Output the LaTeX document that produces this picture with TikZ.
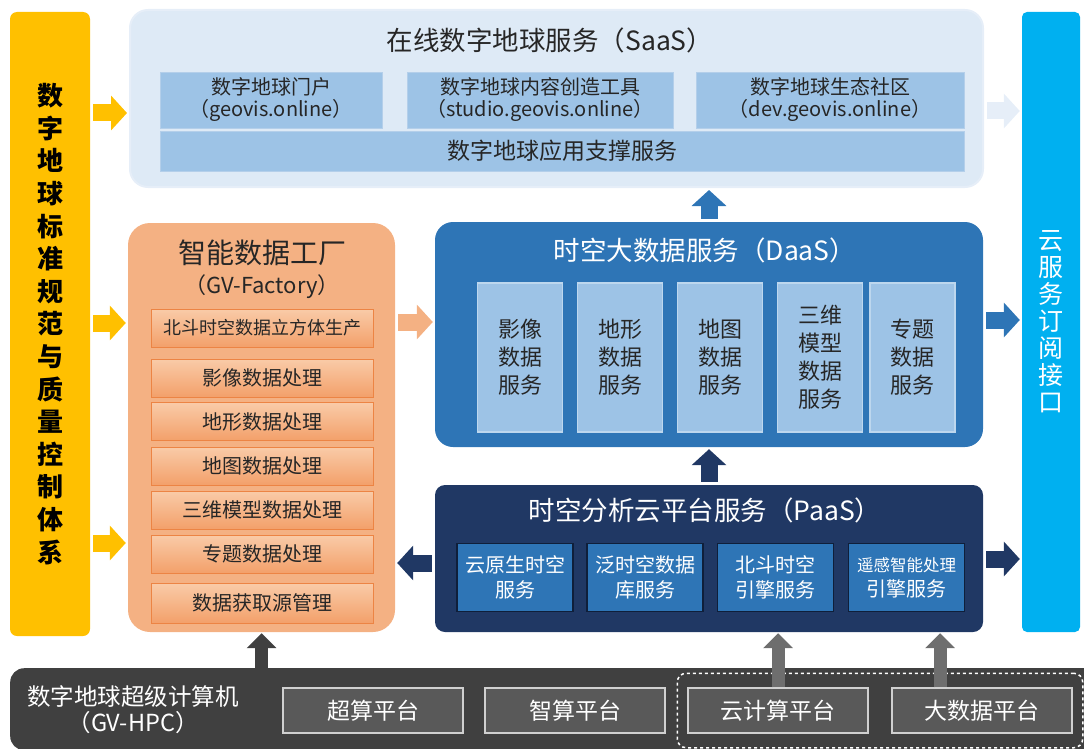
\documentclass[tikz,border=0pt]{standalone}
\usepackage{fontspec}
\setmainfont{Noto Sans CJK SC}
\usetikzlibrary{positioning,fit,arrows.meta}

\definecolor{stdyellow}{HTML}{FFC000}
\definecolor{cloudblue}{HTML}{00B0F0}
\definecolor{saasbg}{HTML}{DEEAF6}
\definecolor{saasedge}{HTML}{E6EEF8}
\definecolor{lightblue}{HTML}{9DC3E6}
\definecolor{saasline}{HTML}{B4CFEA}
\definecolor{factorybg}{HTML}{F4B183}
\definecolor{cubetop}{HTML}{F9CBA8}
\definecolor{cubebot}{HTML}{F3A06A}
\definecolor{cubeedge}{HTML}{EC8444}
\definecolor{daasblue}{HTML}{2E75B6}
\definecolor{daasline}{HTML}{BDD7EE}
\definecolor{paasnavy}{HTML}{203864}
\definecolor{paasline}{HTML}{0F1F3A}
\definecolor{hpcdark}{HTML}{404040}
\definecolor{hpcbox}{HTML}{595959}
\definecolor{hpcline}{HTML}{D0D0D0}
\definecolor{hpcarrow}{HTML}{6E6E6E}
\definecolor{inktext}{HTML}{262626}

\begin{document}
\begin{tikzpicture}[x=1pt,y=-1pt,
  every node/.style={inner sep=0pt,align=center},
  sidebar/.style={rectangle,rounded corners=7pt},
  layer/.style={rectangle,rounded corners=18pt},
  layertitle/.style={font=\fontsize{26.5}{30}\selectfont},
  saasitem/.style={rectangle,fill=lightblue,draw=saasline,line width=0.8pt,text=inktext,font=\fontsize{20}{22}\selectfont},
  cubeitem/.style={rectangle,top color=cubetop,bottom color=cubebot,draw=cubeedge,line width=1pt,minimum width=222pt,minimum height=38pt,text=inktext,font=\fontsize{20}{22}\selectfont},
  daasitem/.style={rectangle,fill=lightblue,draw=daasline,line width=1.2pt,minimum width=85pt,minimum height=149pt,text=inktext,font=\fontsize{22}{28}\selectfont},
  paasitem/.style={rectangle,fill=daasblue,draw=paasline,line width=1.5pt,minimum width=116pt,minimum height=68pt,text=white,font=\fontsize{20}{25}\selectfont},
  hpcitem/.style={rectangle,fill=hpcbox,draw=hpcline,line width=1.5pt,minimum width=180pt,minimum height=45pt,text=white,font=\fontsize{23}{25}\selectfont},
  blockarrow/.style={line width=17pt,-{Triangle[length=16pt,width=34pt]},shorten <=3pt,shorten >=2pt},
  slimarrow/.style={line width=13pt,-{Triangle[length=15pt,width=29pt]},shorten >=1pt},
]

\useasboundingbox (0,0) rectangle (1084,749);

% side bars
\node[sidebar,fill=stdyellow,minimum width=80pt,minimum height=624pt,font=\bfseries\fontsize{26}{32.6}\selectfont] (std) at (50,324)
  {数\\字\\地\\球\\标\\准\\规\\范\\与\\质\\量\\控\\制\\体\\系};
\node[sidebar,rounded corners=5pt,fill=cloudblue,minimum width=58pt,minimum height=620pt,text=white,font=\fontsize{25}{27}\selectfont] (cloud) at (1051,322)
  {云\\服\\务\\订\\阅\\接\\口};

% SaaS layer
\node[layer,fill=saasbg,draw=saasedge,line width=2pt,minimum width=853pt,minimum height=177pt] (saas) at (556.5,98.5) {};
\node[layertitle,text=inktext] (saastitle) at (550,40) {在线数字地球服务（SaaS）};
\node[saasitem,minimum width=222pt,minimum height=56pt] (portal) at (271,100) {数字地球门户\\（geovis.online）};
\node[saasitem,minimum width=266pt,minimum height=56pt] (studio) at (540,100) {数字地球内容创造工具\\（studio.geovis.online）};
\node[saasitem,minimum width=268pt,minimum height=56pt] (devcom) at (830,100) {数字地球生态社区\\（dev.geovis.online）};
\node[saasitem,minimum width=804pt,minimum height=40pt,font=\fontsize{23}{25}\selectfont] (support) at (562,151) {数字地球应用支撑服务};

% data factory
\node[layer,rounded corners=22pt,fill=factorybg,minimum width=267pt,minimum height=409pt] (factory) at (261.5,427.5) {};
\node[text=inktext,font=\fontsize{28}{30}\selectfont] (factitle) at (262,253) {智能数据工厂};
\node[text=inktext,font=\fontsize{22}{26}\selectfont] (facsub) at (262,287) {（GV-Factory）};
\node[cubeitem,font=\fontsize{18}{20}\selectfont] (cube1) at (262,328) {北斗时空数据立方体生产};
\node[cubeitem] (cube2) at (262,378) {影像数据处理};
\node[cubeitem] (cube3) at (262,421.5) {地形数据处理};
\node[cubeitem] (cube4) at (262,466) {地图数据处理};
\node[cubeitem] (cube5) at (262,510) {三维模型数据处理};
\node[cubeitem] (cube6) at (262,554) {专题数据处理};
\node[cubeitem,minimum height=40pt] (cube7) at (262,603) {数据获取源管理};

% DaaS layer
\node[layer,fill=daasblue,minimum width=548pt,minimum height=225pt] (daas) at (709,334.5) {};
\node[layertitle,text=white] (daastitle) at (705,250) {时空大数据服务（DaaS）};
\node[daasitem] (imgsvc) at (520,357.5) {影像\\数据\\服务};
\node[daasitem] (demsvc) at (620,357.5) {地形\\数据\\服务};
\node[daasitem] (mapsvc) at (720,357.5) {地图\\数据\\服务};
\node[daasitem] (modsvc) at (820,357.5) {三维\\模型\\数据\\服务};
\node[daasitem] (thmsvc) at (912.5,357.5) {专题\\数据\\服务};

% PaaS layer
\node[layer,rounded corners=10pt,fill=paasnavy,minimum width=548pt,minimum height=147pt] (paas) at (709,558.5) {};
\node[layertitle,text=white] (paastitle) at (705,510) {时空分析云平台服务（PaaS）};
\node[paasitem] (native) at (515,577.5) {云原生时空\\服务};
\node[paasitem] (pandb) at (645,577.5) {泛时空数据\\库服务};
\node[paasitem] (beidou) at (775.5,577.5) {北斗时空\\引擎服务};
\node[paasitem] (remote) at (906.5,577.5) {{\fontsize{16.5}{25}\selectfont 遥感智能处理}\\引擎服务};

% HPC base
\node[rectangle,rounded corners=14pt,fill=hpcdark,minimum width=1100pt,minimum height=82pt,anchor=north west] (hpc) at (10,668) {};
\node[text=white,font=\fontsize{23.5}{26}\selectfont] (hpclabel) at (133,710) {数字地球超级计算机\\（GV-HPC）};
\node[hpcitem] (supercomp) at (373,710.5) {超算平台};
\node[hpcitem] (aicomp) at (575,710.5) {智算平台};
\node[hpcitem] (cloudcomp) at (778,710.5) {云计算平台};
\node[hpcitem] (bigdata) at (982,710.5) {大数据平台};
\node[rectangle,rounded corners=9pt,draw=white,dashed,line width=1.5pt,fit=(cloudcomp)(bigdata),inner xsep=10pt,inner ysep=14pt] (cloudgroup) {};

% standard system arrows
\draw[blockarrow,stdyellow] (std.east |- 0,113) -- (saas.west |- 0,113);
\draw[blockarrow,stdyellow] (std.east |- 0,323) -- (factory.west |- 0,323);
\draw[blockarrow,stdyellow] (std.east |- 0,543) -- (factory.west |- 0,543);

% data flow between layers
\draw[blockarrow,factorybg] (factory.east |- 0,322) -- (daas.west |- 0,322);
\draw[blockarrow,daasblue] (daas.north) -- (daas.north |- saas.south);
\draw[blockarrow,paasnavy] (paas.north) -- (daas.south);
\draw[blockarrow,paasnavy] (paas.west |- 0,563) -- (factory.east |- 0,563);

% to subscription interface
\draw[blockarrow,saasedge] (saas.east |- 0,111) -- (cloud.west |- 0,111);
\draw[blockarrow,daasblue] (daas.east |- 0,320) -- (cloud.west |- 0,320);
\draw[blockarrow,paasnavy] (paas.east |- 0,559) -- (cloud.west |- 0,559);

% computing support
\draw[slimarrow,hpcdark] (factory.south |- hpc.north) -- (factory.south);
\draw[slimarrow,hpcarrow] (cloudcomp.north) -- (cloudcomp.north |- paas.south);
\draw[slimarrow,hpcarrow] (bigdata.north -| 940,0) -- (paas.south -| 940,0);
\end{tikzpicture}
\end{document}
